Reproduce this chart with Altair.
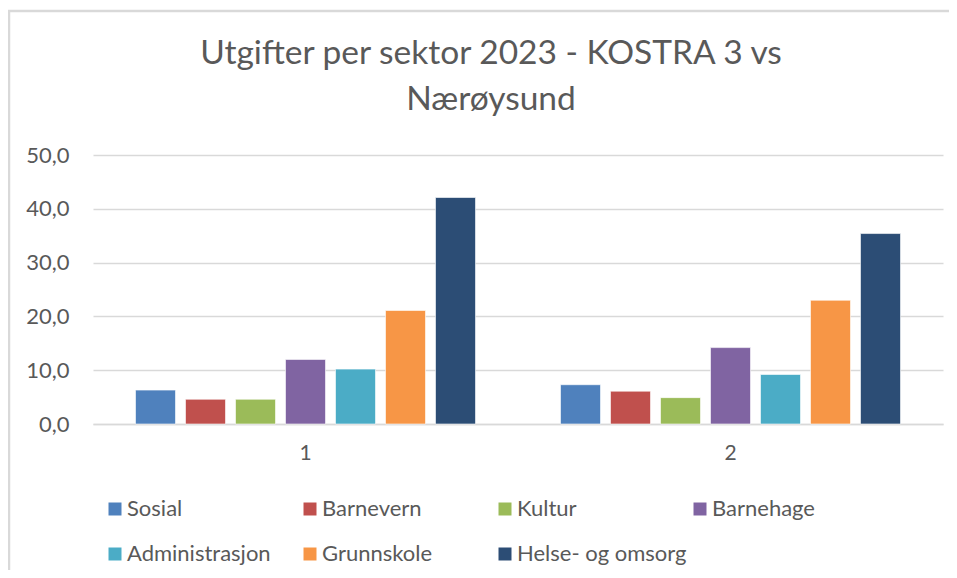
import altair as alt
import pandas as pd

sectors = ["Sosial", "Barnevern", "Kultur", "Barnehage", "Administrasjon", "Grunnskole", "Helse- og omsorg"]
groups = ["1", "2"]
values_1 = [6.3, 4.6, 4.6, 12.0, 10.2, 21.1, 42.1]
values_2 = [7.3, 6.1, 4.9, 14.2, 9.2, 23.0, 35.4]
colors = ["#4f81bd", "#c0504d", "#9bbb59", "#8064a2", "#4bacc6", "#f79646", "#2c4d75"]
y_ticks = [0, 10, 20, 30, 40, 50]

rows = []
for g, vals in zip(groups, [values_1, values_2]):
    for s, v in zip(sectors, vals):
        rows.append({"gruppe": g, "sektor": s, "verdi": v})
df = pd.DataFrame(rows)

FONT = "Lato"
GREY = "#595959"
W, H = 850, 269

bars = alt.Chart(df).mark_bar(stroke="white", strokeWidth=0.6).encode(
    x=alt.X("gruppe:N", sort=groups, title=None,
            scale=alt.Scale(paddingInner=0.2, paddingOuter=0.1),
            axis=alt.Axis(labelAngle=0, ticks=False, domain=True, domainColor="#d9d9d9",
                          domainWidth=1.5, labelFontSize=21, labelColor=GREY,
                          labelFont=FONT, labelPadding=18)),
    xOffset=alt.XOffset("sektor:N", sort=sectors,
                        scale=alt.Scale(paddingInner=0.2, paddingOuter=0)),
    y=alt.Y("verdi:Q", title=None,
            scale=alt.Scale(domain=[0, 50]),
            axis=alt.Axis(values=y_ticks, ticks=False, domain=False, gridColor="#d9d9d9",
                          gridWidth=1.6, labelFontSize=22, labelColor=GREY, labelFont=FONT,
                          labelPadding=24,
                          labelExpr="replace(format(datum.value, '.1f'), '.', ',')")),
    color=alt.Color("sektor:N", sort=sectors,
                    scale=alt.Scale(domain=sectors, range=colors),
                    legend=alt.Legend(title=None, orient="none", legendX=11, legendY=343,
                                      direction="horizontal",
                                      columns=4, gridAlign="all", columnPadding=2,
                                      rowPadding=23, symbolType="square", symbolSize=169,
                                      symbolStrokeWidth=0, labelFontSize=22, labelColor=GREY,
                                      labelFont=FONT, labelOffset=1, labelLimit=250)),
)

frame_df = pd.DataFrame({"k": [0]})
left_border = alt.Chart(frame_df).mark_rule(color="#d9d9d9", strokeWidth=2.5).encode(
    x=alt.value(-84), y=alt.value(-144), y2=alt.value(H + 300))
top_border = alt.Chart(frame_df).mark_rule(color="#d9d9d9", strokeWidth=2.5).encode(
    y=alt.value(-144), x=alt.value(-85), x2=alt.value(W + 100))

chart = alt.layer(bars, left_border, top_border).properties(
    width=W, height=H,
    title=alt.Title(["Utgifter per sektor 2023 - KOSTRA 3 vs", "Nærøysund"],
                    fontSize=33.5, font=FONT, color=GREY, fontWeight="normal",
                    lineHeight=46, anchor="middle", frame="group", dx=-27, dy=108, offset=0),
    autosize=alt.AutoSizeParams(type="none"),
    padding={"left": 85, "top": 147, "right": 6, "bottom": 146},
).configure_view(stroke=None)

chart.save("out.html", embed_options={"renderer": "svg", "actions": False})
